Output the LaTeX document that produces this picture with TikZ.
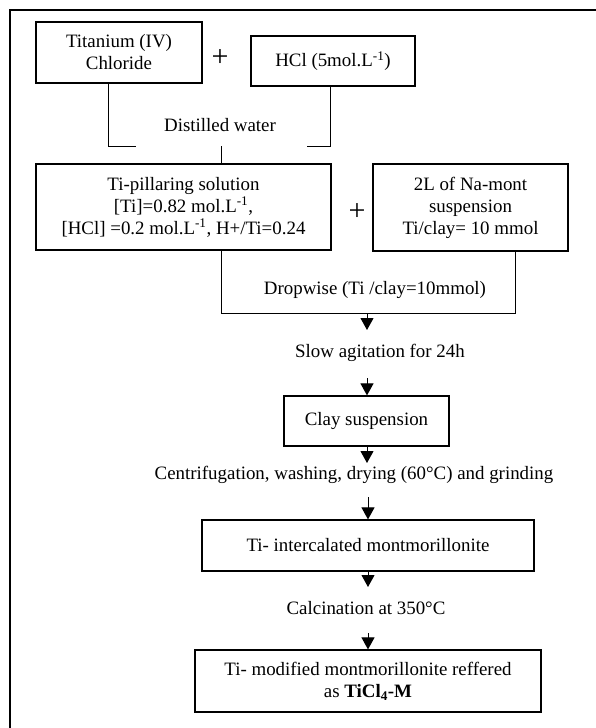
\documentclass[tikz,border=0pt]{standalone}
\usepackage{fontspec}
\setmainfont{Liberation Serif}
\usetikzlibrary{arrows.meta}
\begin{document}
\begin{tikzpicture}[x=1pt,y=-1pt,
  txt/.style={font=\fontsize{18.9}{22}\selectfont, inner sep=0pt, align=center},
  box/.style={txt, draw, line width=1.2pt, anchor=center},
  conn/.style={line width=1pt},
  arr/.style={line width=1pt, -{Triangle[length=12pt,width=13pt]}},
  plus/.style={font=\fontsize{30}{30}\selectfont, inner sep=0pt}]
\useasboundingbox (0,0) rectangle (596,728);
\clip (0,0) rectangle (596,728);
\draw[line width=2pt] (10,740) -- (10,10) -- (610,10);

% top row
\node[box, minimum width=166pt, minimum height=61pt] (tibox) at (119,52.5) {Titanium (IV)\\Chloride};
\node[plus] (plus1) at (220,58) {+};
\node[box, minimum width=164pt, minimum height=50pt] (hclbox) at (333,61) {HCl (5mol.L\textsuperscript{-1})};

% distilled water junction
\coordinate (dwl) at (108,146);
\coordinate (dwr) at (330,146);
\coordinate (dwm) at (221,146);
\node[txt] (dw) at (220,125) {Distilled water};

% second row
\node[box, minimum width=295pt, minimum height=86pt] (pillbox) at (183.5,207) {Ti-pillaring solution\\{}[Ti]=0.82 mol.L\textsuperscript{-1},\\{}[HCl] =0.2 mol.L\textsuperscript{-1}, H+/Ti=0.24};
\node[plus] (plus2) at (357,212) {+};
\node[box, minimum width=195pt, minimum height=87pt] (monbox) at (470.5,207.5) {2L of Na-mont\\suspension\\Ti/clay= 10 mmol};

\draw[conn] (tibox.south -| dwl) -- (dwl) -- ++(28,0);
\draw[conn] (hclbox.south -| dwr) -- (dwr) -- ++(-23,0);
\draw[conn] (dwm) -- (pillbox.north -| dwm);

% dropwise junction
\coordinate (dpl) at (221,313);
\coordinate (dpr) at (515,313);
\coordinate (dpm) at (367,313);
\coordinate (dpt) at (367,330);
\draw[conn] (pillbox.south -| dpl) -- (dpl) -- (dpr) -- (monbox.south -| dpr);
\node[txt] (drop) at (375,290) {Dropwise (Ti /clay=10mmol)};
\draw[arr] (dpm) -- (dpt);

\node[txt] (slow) at (380,353) {Slow agitation for 24h};
\node[box, minimum width=165pt, minimum height=50pt] (claybox) at (366.5,421) {Clay suspension};
\coordinate (a2) at (367,378);
\draw[arr] (a2) -- (a2 |- claybox.north);

\coordinate (a3e) at (367,463);
\draw[arr] (claybox.south -| a3e) -- (a3e);
\node[txt] (centri) at (354,475) {Centrifugation, washing, drying (60°C) and grinding};

\node[box, minimum width=332pt, minimum height=51pt] (tiint) at (368,545.5) {Ti- intercalated montmorillonite};
\coordinate (a4) at (368,497);
\draw[arr] (a4) -- (a4 |- tiint.north);

\coordinate (a5e) at (368,587);
\draw[arr] (tiint.south -| a5e) -- (a5e);
\node[txt] (calc) at (366,608) {Calcination at 350°C};

\node[box, minimum width=346pt, minimum height=62pt] (final) at (368,681) {Ti- modified montmorillonite reffered\\as \textbf{TiCl\textsubscript{4}-M}};
\coordinate (a6) at (368,633);
\draw[arr] (a6) -- (a6 |- final.north);
\end{tikzpicture}
\end{document}
